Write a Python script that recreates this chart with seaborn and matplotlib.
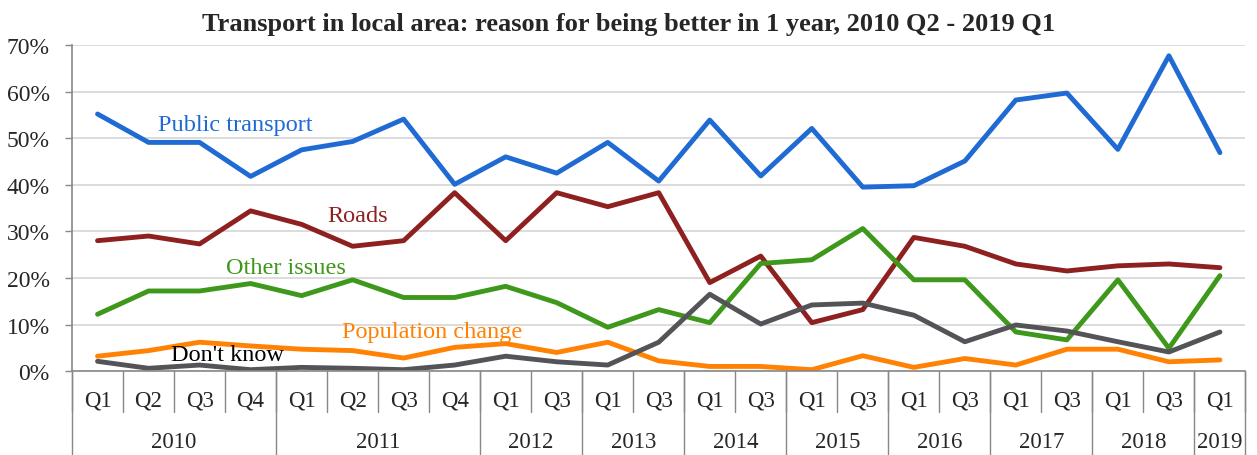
import numpy as np
import pandas as pd
import matplotlib
matplotlib.use("Agg")
import matplotlib.pyplot as plt
import matplotlib.transforms as mtransforms
import seaborn as sns

# ----------------------------------------------------
# data (percent)
# ----------------------------------------------------
quarters = ["Q1", "Q2", "Q3", "Q4", "Q1", "Q2", "Q3", "Q4", "Q1", "Q3", "Q1", "Q3",
            "Q1", "Q3", "Q1", "Q3", "Q1", "Q3", "Q1", "Q3", "Q1", "Q3", "Q1"]
years = ["2010", "2011", "2012", "2013", "2014", "2015", "2016", "2017", "2018", "2019"]
year_counts = [4, 4, 2, 2, 2, 2, 2, 2, 2, 1]

public_transport = [55.2, 49.1, 49.1, 41.8, 47.5, 49.3, 54.1, 40.1, 46.0, 42.5, 49.1, 40.8,
                    53.9, 41.9, 52.1, 39.5, 39.8, 45.1, 58.2, 59.7, 47.6, 67.7, 46.9]
roads = [28.0, 29.0, 27.3, 34.4, 31.5, 26.8, 28.0, 38.3, 28.0, 38.3, 35.3, 38.3,
         19.0, 24.7, 10.4, 13.2, 28.7, 26.8, 23.0, 21.5, 22.6, 23.0, 22.2]
other_issues = [12.2, 17.2, 17.2, 18.8, 16.2, 19.6, 15.8, 15.8, 18.2, 14.7, 9.4, 13.2,
                10.4, 23.1, 23.9, 30.6, 19.6, 19.6, 8.4, 6.7, 19.6, 4.9, 20.5]
population_change = [3.2, 4.4, 6.2, 5.4, 4.7, 4.4, 2.8, 5.1, 5.9, 4.0, 6.2, 2.2,
                     1.0, 1.0, 0.3, 3.3, 0.8, 2.7, 1.3, 4.7, 4.7, 2.0, 2.4]
dont_know = [2.1, 0.6, 1.3, 0.3, 0.8, 0.6, 0.3, 1.3, 3.2, 2.0, 1.3, 6.2,
             16.5, 10.1, 14.2, 14.6, 12.0, 6.3, 9.9, 8.6, 6.3, 4.1, 8.4]

series = {
    "Public transport": public_transport,
    "Roads": roads,
    "Other issues": other_issues,
    "Population change": population_change,
    "Don't know": dont_know,
}
colors = {
    "Public transport": "#1F6AD3",
    "Roads": "#8E2020",
    "Other issues": "#3E981B",
    "Population change": "#FF8205",
    "Don't know": "#545358",
}
# label positions (x index, y percent) and text colour
label_pos = {
    "Public transport": (2.7, 53.0, "#1F6AD3"),
    "Roads": (5.1, 33.5, "#8E2020"),
    "Other issues": (3.7, 22.3, "#3E981B"),
    "Population change": (6.55, 8.4, "#FF8205"),
    "Don't know": (2.55, 3.6, "black"),
}

rows = []
for name, vals in series.items():
    for i, v in enumerate(vals):
        rows.append({"x": i, "value": v, "series": name})
df = pd.DataFrame(rows)

# ----------------------------------------------------
# plot
# ----------------------------------------------------
sns.set_style("white")
plt.rcParams["font.family"] = ["Liberation Serif", "DejaVu Serif"]

fig = plt.figure(figsize=(12.57, 4.56), dpi=100)
ax = fig.add_axes([0.0573, 0.184, 0.9335, 0.715])

sns.lineplot(data=df, x="x", y="value", hue="series", palette=colors,
             linewidth=3.5, legend=False, ax=ax, sort=False)

n = len(quarters)
ax.set_xlim(-0.5, n - 0.5)
ax.set_ylim(0, 70)
ax.set_yticks(np.arange(0, 71, 10))
ax.set_yticklabels([f"{v}%" for v in range(0, 71, 10)], fontsize=17)
ax.yaxis.grid(True, color="#D9D9D9", linewidth=1.3)
ax.set_axisbelow(True)
ax.tick_params(axis="y", length=5, width=1, color="#888888", pad=11, left=True)
ax.set_xlabel("")
ax.set_ylabel("")

for s in ["top", "right"]:
    ax.spines[s].set_visible(False)
for s in ["left", "bottom"]:
    ax.spines[s].set_color("#888888")
    ax.spines[s].set_linewidth(1.2)

# multi-level category axis
ax.set_xticks([])
trans = mtransforms.blended_transform_factory(ax.transData, ax.transAxes)
for i, q in enumerate(quarters):
    ax.text(i, -0.089, q, transform=trans, ha="center", va="center", fontsize=16.5)
for b in range(n + 1):
    ax.plot([b - 0.5, b - 0.5], [0, -0.126], transform=trans, color="#888888",
            linewidth=1, clip_on=False)
start = 0
for y, c in zip(years, year_counts):
    ax.text(start + c / 2 - 0.5, -0.215, y, transform=trans, ha="center", va="center",
            fontsize=16.5)
    ax.plot([start - 0.5, start - 0.5], [0, -0.26], transform=trans, color="#888888",
            linewidth=1, clip_on=False)
    start += c
ax.plot([start - 0.5, start - 0.5], [0, -0.26], transform=trans, color="#888888",
        linewidth=1, clip_on=False)

# inline series labels
for name, (lx, ly, col) in label_pos.items():
    ax.text(lx, ly, name, color=col, fontsize=17.5, ha="center", va="center")

fig.text(0.5, 0.947, "Transport in local area: reason for being better in 1 year, 2010 Q2 - 2019 Q1",
         ha="center", va="center", fontsize=19, fontweight="bold")

fig.savefig("out.png", dpi=100)
